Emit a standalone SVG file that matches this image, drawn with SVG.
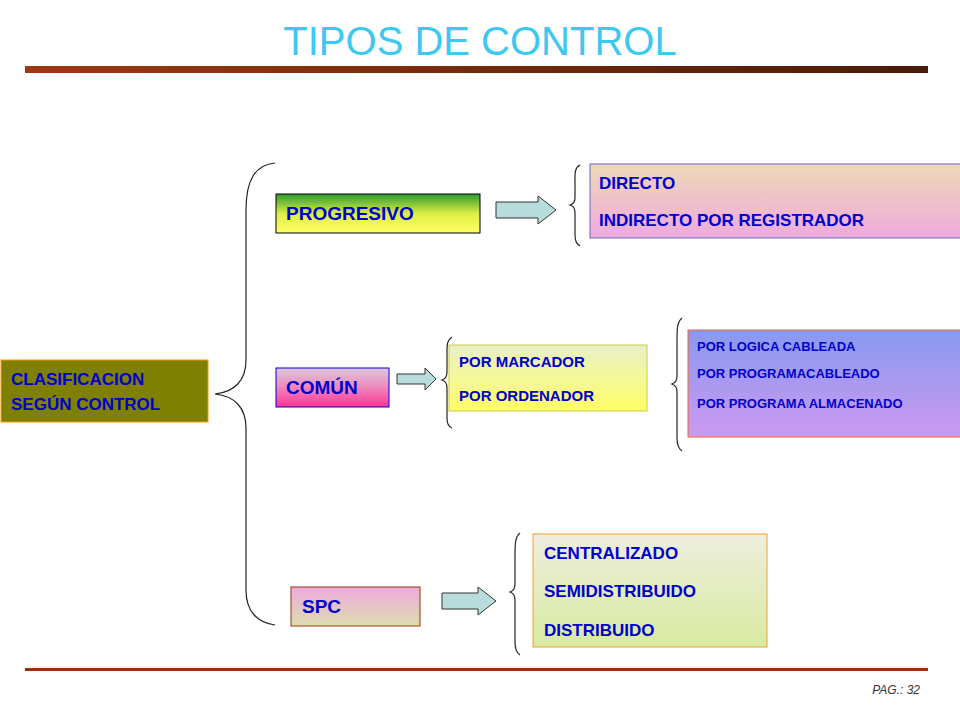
<svg xmlns="http://www.w3.org/2000/svg" width="960" height="720" viewBox="0 0 960 720">
<style>
text{font-family:"Liberation Sans",Arial,sans-serif;font-weight:bold;fill:#0000cc}
.br{fill:none;stroke:#222;stroke-width:1.2}
.ar{fill:#b8dcdc;stroke:#333;stroke-width:1}
</style>
<defs>
<linearGradient id="gP" x1="0" y1="0" x2="0" y2="1"><stop offset="0" stop-color="#2e9a2e"/><stop offset="0.5" stop-color="#ddee44"/><stop offset="1" stop-color="#ffff66"/></linearGradient>
<linearGradient id="gC" x1="0" y1="0" x2="0" y2="1"><stop offset="0" stop-color="#ddc8e0"/><stop offset="0.5" stop-color="#ee88bb"/><stop offset="1" stop-color="#ff3399"/></linearGradient>
<linearGradient id="gS" x1="0" y1="0" x2="0" y2="1"><stop offset="0" stop-color="#eeaadd"/><stop offset="1" stop-color="#ddddb0"/></linearGradient>
<linearGradient id="gD" x1="0" y1="0" x2="0" y2="1"><stop offset="0" stop-color="#efd8b8"/><stop offset="1" stop-color="#eeaadd"/></linearGradient>
<linearGradient id="gM" x1="0" y1="0" x2="0" y2="1"><stop offset="0" stop-color="#e8f0c8"/><stop offset="1" stop-color="#ffff66"/></linearGradient>
<linearGradient id="gL" x1="0" y1="0" x2="0" y2="1"><stop offset="0" stop-color="#8899f0"/><stop offset="1" stop-color="#cc99f0"/></linearGradient>
<linearGradient id="gZ" x1="0" y1="0" x2="0" y2="1"><stop offset="0" stop-color="#eeeede"/><stop offset="1" stop-color="#d8eaa0"/></linearGradient>
<linearGradient id="gT" x1="0" y1="0" x2="1" y2="0"><stop offset="0" stop-color="#a03810"/><stop offset="1" stop-color="#4a1a08"/></linearGradient>
</defs>
<text x="480" y="55" text-anchor="middle" style="font-weight:normal;fill:#3cc8f0" font-size="40">TIPOS DE CONTROL</text>
<rect x="25" y="66" width="903" height="7" fill="url(#gT)"/>
<rect x="25" y="668" width="903" height="3" fill="#993300"/>
<text x="920" y="694" text-anchor="end" font-size="12" style="font-weight:normal;font-style:italic;fill:#333">PAG.: 32</text>

<g id="connectors">
<path class="br" d="M275,163 C255,165 246,180 246,210 L246,360 C246,380 235,392 215,394 C235,396 246,408 246,428 L246,590 C246,612 258,623 275,625"/>
<path class="br" d="M580,165 C574,168 575,175 575,185 L575,198 C575,202 573,204 570,205 C573,206 575,208 575,212 L575,235 C575,242 577,244 580,246"/>
<path class="br" d="M452,337 C447,340 447,345 447,352 L447,372 C447,377 445,379 442,380 C445,381 447,383 447,388 L447,418 C447,424 449,427 452,428"/>
<path class="br" d="M682,318 C677,322 677,330 677,340 L677,376 C677,381 675,383 672,384 C675,385 677,387 677,392 L677,438 C677,446 679,449 682,451"/>
<path class="br" d="M520,533 C515,537 515,545 515,555 L515,584 C515,589 513,591 510,592 C513,593 515,595 515,600 L515,642 C515,650 517,653 520,655"/>
<path class="ar" d="M496,202 L538,202 L538,196 L556,210 L538,224 L538,218 L496,218 Z"/>
<path class="ar" d="M397,374 L425,374 L425,368 L436,379 L425,390 L425,384 L397,384 Z"/>
<path class="ar" d="M442,593 L478,593 L478,587 L496,601 L478,615 L478,609 L442,609 Z"/>
</g>

<g id="clasificacion"><rect x="1" y="360" width="207" height="62" fill="#808000" stroke="#ff9900"/>
<text x="11" y="385" font-size="17">CLASIFICACION</text><text x="11" y="410" font-size="17">SEGÚN  CONTROL</text></g>
<g id="progresivo"><rect x="276" y="194" width="204" height="39" fill="url(#gP)" stroke="#000"/>
<text x="286" y="220" font-size="19">PROGRESIVO</text></g>
<g id="comun"><rect x="276" y="368" width="113" height="39" fill="url(#gC)" stroke="#0000cc"/>
<text x="286" y="394" font-size="19">COMÚN</text></g>
<g id="spc"><rect x="291" y="587" width="129" height="39" fill="url(#gS)" stroke="#993300"/>
<text x="302" y="613" font-size="19">SPC</text></g>
<g id="directo"><rect x="590" y="164" width="372" height="74" fill="url(#gD)" stroke="#6666cc"/>
<text x="599" y="189" font-size="17">DIRECTO</text><text x="599" y="226" font-size="17">INDIRECTO POR REGISTRADOR</text></g>
<g id="marcador"><rect x="449" y="345" width="198" height="66" fill="url(#gM)" stroke="#cccc44"/>
<text x="459" y="367" font-size="15">POR MARCADOR</text><text x="459" y="401" font-size="15">POR ORDENADOR</text></g>
<g id="logica"><rect x="688" y="330" width="274" height="107" fill="url(#gL)" stroke="#ee6633"/>
<text x="697" y="351" font-size="13">POR LOGICA CABLEADA</text><text x="697" y="378" font-size="13">POR PROGRAMACABLEADO</text><text x="697" y="408" font-size="13">POR PROGRAMA ALMACENADO</text></g>
<g id="centralizado"><rect x="533" y="534" width="234" height="113" fill="url(#gZ)" stroke="#f0a030"/>
<text x="544" y="559" font-size="17">CENTRALIZADO</text><text x="544" y="597" font-size="17">SEMIDISTRIBUIDO</text><text x="544" y="636" font-size="17">DISTRIBUIDO</text></g>
</svg>
